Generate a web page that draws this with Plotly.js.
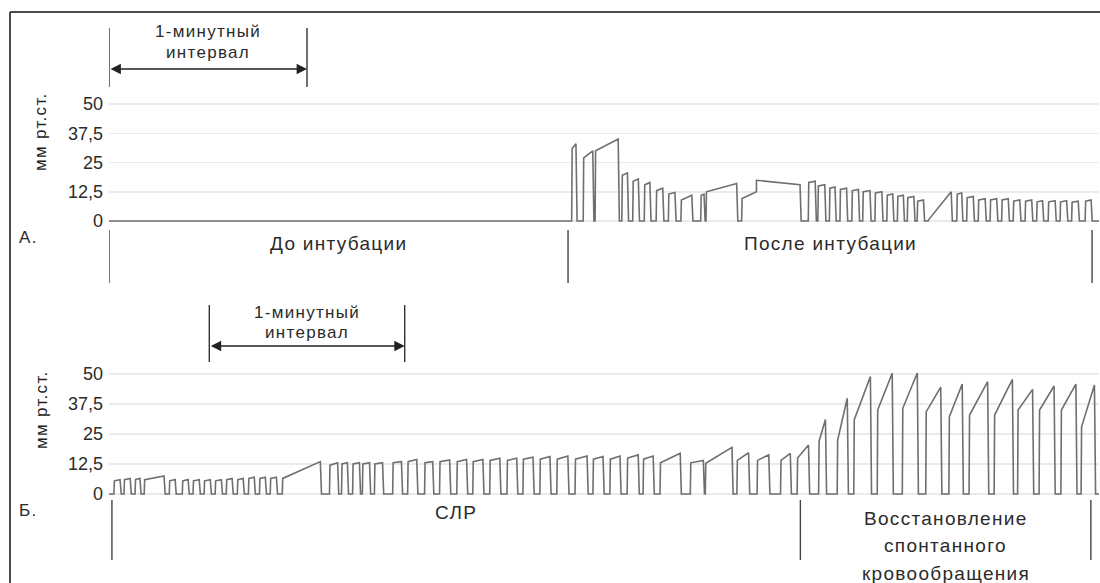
<!DOCTYPE html>
<html><head><meta charset="utf-8">
<script src="https://cdn.plot.ly/plotly-3.0.1.min.js"></script>
<style>
html,body{margin:0;padding:0;background:#fff}
#chart{width:1100px;height:583px}
text.annotation-text{letter-spacing:1.3px}
</style>
</head><body><div id="chart"></div>
<script>
// ---------- DATA (time in seconds, CO2 in mm Hg) ----------
// Panel A: breaths after intubation (start, end, value after upstroke, value before drop)
const aStart = [140.2,143.7,147.3,155.4,158.7,162.2,165.8,169.5,173.3,179.3,180.9,191.7,196.2,211.9,214.8,218.3,221.5,225.1,228.4,232.1,235.7,238.9,241.9,244.9,248.2,256.9,259.9,263.4,267.0,270.5,274.0,277.6,281.1,284.6,288.2,291.7,295.8];
const aEnd   = [141.5,146.6,154.3,157.1,160.4,163.9,167.8,171.5,176.6,180.3,190.2,196.2,209.4,214.0,216.9,220.0,223.5,227.1,230.6,234.2,237.5,240.7,243.9,246.8,255.2,258.4,261.9,265.5,269.0,272.5,276.0,279.6,282.9,286.7,290.2,293.7,297.6];
const aRise  = [31,27,30,19.5,17,15.5,13,11.5,9,11,12.5,9.6,17.4,16.5,15,14,13.5,13,12.5,12,11,10.5,10,8.5,0.5,11.5,10,9,9,9,8.5,8.5,8.2,8.2,8.2,8,8.5];
const aPeak  = [33,30,35,20.5,18,16.5,14,12.2,11,11.5,16,12.5,15.5,17,15.5,14.5,14,13.5,13,12.5,11.5,11,10.5,9,12.5,12,10.5,9.5,9.5,9.5,9,9,8.7,8.7,8.7,8.5,9];
const aRange = [0, 300];
const aInterval = [0, 60];
const aPhases = [0, 139.1, 297.9];
const aPhaseLabels = [['До интубации'], ['После интубации']];

// Panel B: CPR and return of spontaneous circulation
const bStart = [1.5,4.6,8.0,10.8,18.5,22.5,25.8,29.2,32.6,36.0,39.4,42.8,46.2,49.5,53.2,67.7,71.4,74.8,77.8,81.5,87.1,91.7,96.9,101.5,106.8,111.7,116.9,122.2,127.1,132.3,137.5,143.1,148.6,153.8,159.1,164.0,169.2,178.5,183.1,192.8,199.0,206.2,211.3,217.9,223.6,228.7,235.9,243.6,250.8,257.9,264.1,271.8,279.0,285.6,292.3,298.5];
const bEnd   = [3.4,6.5,9.5,16.9,20.3,24.3,27.7,31.1,34.5,37.8,41.2,44.6,48.0,51.4,64.9,70.2,73.2,76.9,80.0,84.0,89.8,94.5,99.4,104.6,109.8,114.8,120.0,125.2,130.2,135.4,140.9,146.8,151.7,156.9,162.5,167.1,175.4,182.5,191.3,196.4,202.6,209.2,214.8,220.0,226.7,233.8,240.5,248.2,255.4,262.0,269.8,277.4,283.6,290.2,296.9,302.6];
const bRise  = [5.5,6,6,6,5.5,5.5,5.5,5.5,5.5,6,6,6.5,6.5,6.5,6.5,12,12.5,12.5,12.5,12.5,13,13.5,13,13.5,13.5,13.5,14,14,14.5,14.5,14.5,14.5,14.5,14.5,15,14.5,13,13,12.8,14,14,14,15,22,22.5,31,35,35.7,34.3,32.2,32.9,32.9,35,35,35,28];
const bPeak  = [6,6.5,6.5,7.5,6,6,6,6,6,6.5,6.5,7,7,7,13.5,13,13,13,13,13,13.5,14.4,13.5,14.2,14.4,14.4,14.9,14.9,15.3,15.6,15.8,15.8,15.6,15.8,16.3,15.8,17,14,19.4,17.2,16.3,16.9,20.4,31,39.9,48.9,50.3,50.4,44.5,45.8,46.8,47.8,43.6,45,45.8,45.4];
const bRange = [0, 304];
const bInterval = [30.8, 90.8];
const bPhases = [0.9, 212.3, 301.5];
const bPhaseLabels = [['СЛР'], ['Восстановление', 'спонтанного', 'кровообращения']];

const yTickVals = [0, 12.5, 25, 37.5, 50];
const yTickText = ['0', '12,5', '25', '37,5', '50'];
const yTitle = 'мм рт.ст.';
const intervalLabel = ['1-минутный', 'интервал'];
const panelLetters = ['А.', 'Б.'];

// ---------- build waveform polyline from breath table ----------
function wave(s, e, r, p, tEnd) {
  const t = [0], v = [0];
  const up = 0.15, down = 0.35;
  for (let i = 0; i < s.length; i++) {
    const contPrev = i > 0 && Math.abs(s[i] - e[i - 1]) < 1e-6;
    if (!contPrev) { t.push(s[i]); v.push(0); t.push(s[i] + up); v.push(r[i]); }
    else { t.push(s[i]); v.push(r[i]); }
    t.push(e[i]); v.push(p[i]);
    const contNext = i < s.length - 1 && Math.abs(s[i + 1] - e[i]) < 1e-6;
    if (!contNext) { t.push(e[i] + down); v.push(0); }
  }
  if (t[t.length - 1] < tEnd) { t.push(tEnd); v.push(0); }
  return { t, v };
}
const wA = wave(aStart, aEnd, aRise, aPeak, aRange[1]);
const wB = wave(bStart, bEnd, bRise, bPeak, bRange[1]);

// ---------- layout helpers (pixel -> paper) ----------
const W = 1100, H = 583;
const px = x => x / W, py = y => 1 - y / H;
const FONT = 'Liberation Sans, Arial, sans-serif';
const TXT = '#2b2b2b';
const LINE = '#6f6f6f';

const traces = [
  { x: wA.t, y: wA.v, xaxis: 'x', yaxis: 'y', mode: 'lines', line: { color: LINE, width: 1.6 }, hoverinfo: 'skip' },
  { x: wB.t, y: wB.v, xaxis: 'x2', yaxis: 'y2', mode: 'lines', line: { color: LINE, width: 1.6 }, hoverinfo: 'skip' }
];

const yax = (dom) => ({
  domain: dom, range: [-1.5, 51], tickvals: yTickVals, ticktext: yTickText,
  showgrid: true, gridcolor: '#ebebeb', gridwidth: 1.5, zeroline: false, showline: false, ticks: '',
  ticklabelstandoff: 5,
  tickfont: { family: FONT, size: 18, color: TXT }, fixedrange: true
});
const xax = (rng, anchor) => ({
  domain: [px(109), px(1099)], range: rng, visible: false, showgrid: false, zeroline: false, anchor: anchor, fixedrange: true
});

const layout = {
  width: W, height: H, margin: { l: 0, r: 0, t: 0, b: 0 },
  paper_bgcolor: '#fff', plot_bgcolor: 'rgba(0,0,0,0)', showlegend: false,
  xaxis: xax(aRange, 'y'), yaxis: Object.assign(yax([py(224.5), py(101.7)]), { anchor: 'x' }),
  xaxis2: xax(bRange, 'y2'), yaxis2: Object.assign(yax([py(497.6), py(371.6)]), { anchor: 'x2' }),
  shapes: [], annotations: []
};

// border
layout.shapes.push({ type: 'line', xref: 'paper', yref: 'paper', x0: px(10), y0: py(12), x1: px(1100), y1: py(12), line: { color: '#4a4a4a', width: 2 } });
layout.shapes.push({ type: 'line', xref: 'paper', yref: 'paper', x0: px(10), y0: py(12), x1: px(10), y1: py(583), line: { color: '#4a4a4a', width: 2 } });

function panelDecor(xr, interval, phases, labels, g) {
  interval.forEach(t => layout.shapes.push({ type: 'line', xref: xr, yref: 'paper', x0: t, x1: t, y0: py(g.ivTop), y1: py(g.ivBot), line: { color: '#333', width: 1.4 } }));
  layout.annotations.push({ xref: xr, yref: 'paper', x: interval[1], y: py(g.arrowY), axref: xr, ax: interval[0], ayref: 'pixel', ay: 0,
    showarrow: true, arrowside: 'end+start', arrowhead: 2, arrowsize: 1.3, arrowwidth: 1.6, arrowcolor: '#222', text: '' });
  const mid = (interval[0] + interval[1]) / 2;
  intervalLabel.forEach((s, i) => layout.annotations.push({ xref: xr, yref: 'paper', x: mid, y: py(g.ivText[i]), text: s, showarrow: false,
    font: { family: FONT, size: 17, color: TXT }, xanchor: 'center', yanchor: 'middle' }));
  phases.forEach(t => layout.shapes.push({ type: 'line', xref: xr, yref: 'paper', x0: t, x1: t, y0: py(g.phTop), y1: py(g.phBot), line: { color: '#444', width: 1.4 } }));
  labels.forEach((lines, k) => {
    const m = (phases[k] + phases[k + 1]) / 2;
    lines.forEach((s, i) => layout.annotations.push({ xref: xr, yref: 'paper', x: m, y: py(g.labY[k] + i * g.labStep), text: s, showarrow: false,
      font: { family: FONT, size: 19, color: TXT }, xanchor: 'center', yanchor: 'middle' }));
  });
  layout.annotations.push({ xref: 'paper', yref: 'paper', x: px(41), y: py(g.titleY), text: yTitle, textangle: -90, showarrow: false,
    font: { family: FONT, size: 17, color: '#222' }, xanchor: 'center', yanchor: 'middle' });
  layout.annotations.push({ xref: 'paper', yref: 'paper', x: px(17), y: py(g.letterY), text: g.letter, showarrow: false,
    font: { family: FONT, size: 17, color: TXT }, xanchor: 'left', yanchor: 'middle' });
}

panelDecor('x', aInterval, aPhases, aPhaseLabels, { ivTop: 28, ivBot: 87, arrowY: 69, ivText: [32, 52], phTop: 230, phBot: 283, labY: [243, 243], labStep: 27.5, titleY: 132, letterY: 237, letter: panelLetters[0] });
panelDecor('x2', bInterval, bPhases, bPhaseLabels, { ivTop: 305, ivBot: 362, arrowY: 346, ivText: [312, 332], phTop: 500, phBot: 560, labY: [512, 518], labStep: 27.5, titleY: 410, letterY: 510, letter: panelLetters[1] });

Plotly.newPlot('chart', traces, layout, { staticPlot: true, displayModeBar: false });
</script>
</body></html>
